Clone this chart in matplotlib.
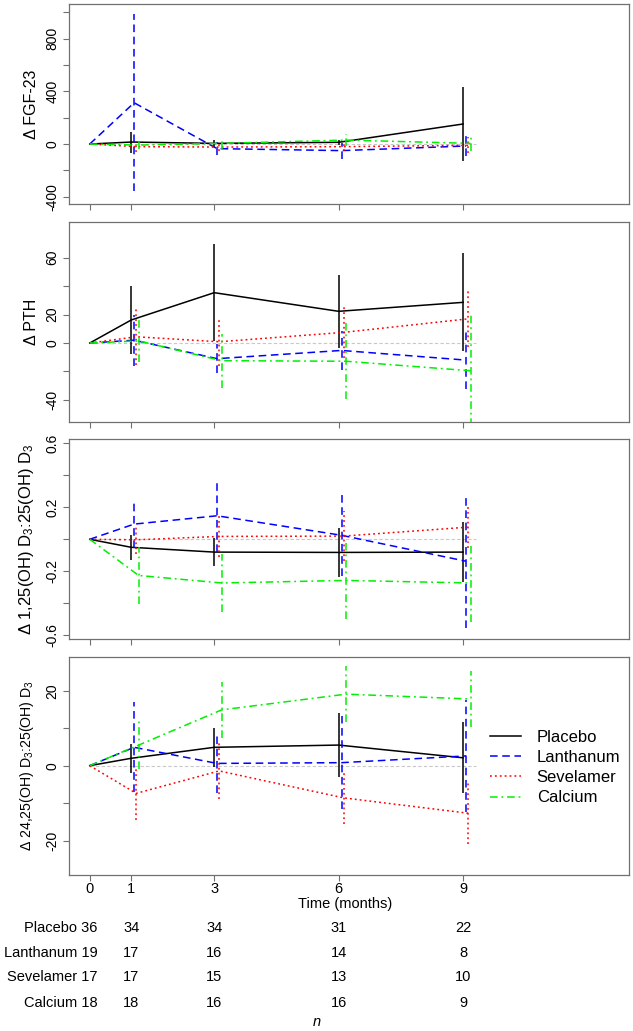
import matplotlib
matplotlib.use('Agg')
import matplotlib.pyplot as plt
import matplotlib.transforms as mtransforms
from matplotlib.ticker import FixedLocator, FixedFormatter

plt.rcParams['font.family'] = ['Liberation Sans', 'DejaVu Sans']
plt.rcParams['mathtext.fontset'] = 'custom'
plt.rcParams['mathtext.rm'] = 'Liberation Sans'
plt.rcParams['mathtext.it'] = 'Liberation Sans:italic'
plt.rcParams['axes.unicode_minus'] = False

# ---------------- data ----------------
months = [0, 1, 3, 6, 9]
groups = ['Placebo', 'Lanthanum', 'Sevelamer', 'Calcium']

fgf_mean = {
    'Placebo':   [0, 15, 5, 13, 152],
    'Lanthanum': [0, 313, -35, -50, -15],
    'Sevelamer': [0, -20, -23, -20, -10],
    'Calcium':   [0, -8, 5, 30, 5],
}
fgf_err = {
    'Placebo':   [0, 80, 28, 18, 280],
    'Lanthanum': [0, 670, 50, 60, 75],
    'Sevelamer': [0, 40, 30, 30, 60],
    'Calcium':   [0, 30, 40, 48, 60],
}

pth_mean = {
    'Placebo':   [0, 16.2, 35.4, 22.3, 28.6],
    'Lanthanum': [0, 2.0, -11.0, -5.2, -12.0],
    'Sevelamer': [0, 4.4, 0.9, 7.5, 17.0],
    'Calcium':   [0, 1.5, -12.4, -12.8, -19.5],
}
pth_err = {
    'Placebo':   [0, 23.6, 34.0, 25.5, 34.5],
    'Lanthanum': [0, 18.0, 10.0, 14.0, 20.0],
    'Sevelamer': [0, 20.0, 17.0, 18.0, 20.0],
    'Calcium':   [0, 15.0, 19.0, 26.7, 39.0],
}

r125_mean = {
    'Placebo':   [0, -0.050, -0.080, -0.082, -0.080],
    'Lanthanum': [0, 0.095, 0.147, 0.025, -0.137],
    'Sevelamer': [0, -0.003, 0.018, 0.020, 0.076],
    'Calcium':   [0, -0.226, -0.273, -0.257, -0.273],
}
r125_err = {
    'Placebo':   [0, 0.080, 0.090, 0.153, 0.190],
    'Lanthanum': [0, 0.150, 0.224, 0.255, 0.420],
    'Sevelamer': [0, 0.086, 0.130, 0.155, 0.130],
    'Calcium':   [0, 0.180, 0.180, 0.240, 0.243],
}

r2425_mean = {
    'Placebo':   [0, 1.97, 4.9, 5.5, 2.1],
    'Lanthanum': [0, 4.9, 0.6, 0.8, 2.6],
    'Sevelamer': [0, -7.4, -1.4, -8.6, -12.7],
    'Calcium':   [0, 5.5, 14.9, 19.1, 17.8],
}
r2425_err = {
    'Placebo':   [0, 3.8, 5.2, 8.6, 9.5],
    'Lanthanum': [0, 12.0, 8.0, 12.5, 15.0],
    'Sevelamer': [0, 7.0, 7.5, 6.9, 8.3],
    'Calcium':   [0, 6.5, 7.5, 7.5, 7.5],
}

counts = {
    'Placebo':   [36, 34, 34, 31, 22],
    'Lanthanum': [19, 17, 16, 14, 8],
    'Sevelamer': [17, 17, 15, 13, 10],
    'Calcium':   [18, 18, 16, 16, 9],
}

ylabels = [
    '\u0394 FGF-23',
    '\u0394 PTH',
    '\u0394 1,25(OH) D$_3$:25(OH) D$_3$',
    '\u0394 24,25(OH) D$_3$:25(OH) D$_3$',
]
yticks = [
    [-400, -200, 0, 200, 400, 600, 800, 1000],
    [-40, -20, 0, 20, 40, 60],
    [-0.6, -0.4, -0.2, 0, 0.2, 0.4, 0.6],
    [-20, -10, 0, 10, 20],
]
ytick_labels = [
    ['-400', '', '0', '', '400', '', '800', ''],
    ['-40', '', '0', '20', '', '60'],
    ['-0.6', '', '-0.2', '', '0.2', '', '0.6'],
    ['-20', '', '0', '', '20'],
]
ylims = [(-455, 1060), (-55.3, 85.3), (-0.625, 0.625), (-29.2, 29.1)]

# ---------------- styles ----------------
colors = {'Placebo': 'black', 'Lanthanum': '#0000FF', 'Sevelamer': '#FF0000', 'Calcium': '#00F000'}
styles = {'Placebo': '-', 'Lanthanum': (0, (5, 3)),
          'Sevelamer': (0, (1.2, 2.0)), 'Calcium': (0, (5, 2.5, 1.2, 2.5))}
dodge = {'Placebo': 0.0, 'Lanthanum': 0.07, 'Sevelamer': 0.12, 'Calcium': 0.18}

W, H = 633, 1031
fig = plt.figure(figsize=(W / 100, H / 100), dpi=100)

panels = [(4.3, 204.0), (221.7, 421.7), (439.3, 639.3), (656.7, 875.0)]
L, R = 69, 629
data_sets = [(fgf_mean, fgf_err), (pth_mean, pth_err), (r125_mean, r125_err), (r2425_mean, r2425_err)]
ylabel_x = [31.7, 31.7, 27.0, 27.0]
ylabel_fs = [11.5, 11.5, 12, 10.2]

axes = []
for k, ((top, bot), (mdict, edict)) in enumerate(zip(panels, data_sets)):
    ax = fig.add_axes([L / W, 1 - bot / H, (R - L) / W, (bot - top) / H])
    axes.append(ax)
    ax.set_xlim(-0.5, 13.0)
    ax.set_ylim(*ylims[k])
    ax.hlines(0, 0, 9.3, colors='#c8c8c8', linestyles=(0, (3, 2)), linewidth=0.8, zorder=1)
    for g in groups:
        xs = [m + (dodge[g] if m > 0 else 0) for m in months]
        ys = mdict[g]
        es = edict[g]
        ax.plot(xs, ys, color=colors[g], linestyle=styles[g], linewidth=1.1, label=g, zorder=3)
        ax.vlines(xs[1:], [y - e for y, e in zip(ys[1:], es[1:])],
                  [y + e for y, e in zip(ys[1:], es[1:])],
                  colors=colors[g], linestyles=styles[g], linewidth=1.1, zorder=3)
    ax.xaxis.set_major_locator(FixedLocator(months))
    ax.yaxis.set_major_locator(FixedLocator(yticks[k]))
    ax.yaxis.set_major_formatter(FixedFormatter(ytick_labels[k]))
    for s in ax.spines.values():
        s.set_color('#707070')
        s.set_linewidth(0.9)
    ax.tick_params(axis='both', direction='out', length=4.3, width=0.8, color='#707070')
    ax.tick_params(axis='y', labelsize=10, pad=2.5, labelrotation=90)
    plt.setp(ax.get_yticklabels(), va='center')
    if k < 3:
        ax.tick_params(axis='x', labelbottom=False)
    else:
        ax.set_xticklabels([str(m) for m in months])
        ax.tick_params(axis='x', labelsize=10.5, pad=0.5)
    ax.set_ylabel(ylabels[k], fontsize=ylabel_fs[k], va='center')
    ax.yaxis.set_label_coords((ylabel_x[k] - L) / (R - L), 0.5)

ax4 = axes[3]
leg = ax4.legend(loc='upper left', bbox_to_anchor=(490 / W, 1 - 730 / H),
                 bbox_transform=fig.transFigure, frameon=False, fontsize=12,
                 handlelength=1.85, handletextpad=0.95, labelspacing=0.31,
                 borderpad=0, borderaxespad=0)

# ---------------- n table below ----------------
trans = mtransforms.blended_transform_factory(ax4.transData, fig.transFigure)
fig.text(345 / W, 1 - 904 / H, 'Time (months)', ha='center', va='center', fontsize=10.5)
row_y = [928.3, 952.7, 977.3, 1003.3]
for g, yy in zip(groups, row_y):
    nvals = counts[g]
    first = mtransforms.offset_copy(trans, fig=fig, x=8, y=0, units='dots')
    ax4.text(months[0], 1 - yy / H, f'{g} {nvals[0]}', transform=first,
             ha='right', va='center', fontsize=10.5)
    for m, n in zip(months[1:], nvals[1:]):
        ax4.text(m, 1 - yy / H, str(n), transform=trans, ha='center', va='center', fontsize=10.5)
fig.text(316.5 / W, 1 - 1022 / H, 'n', ha='center', va='center', fontsize=10.5, style='italic')

fig.savefig('out.png', dpi=100)
